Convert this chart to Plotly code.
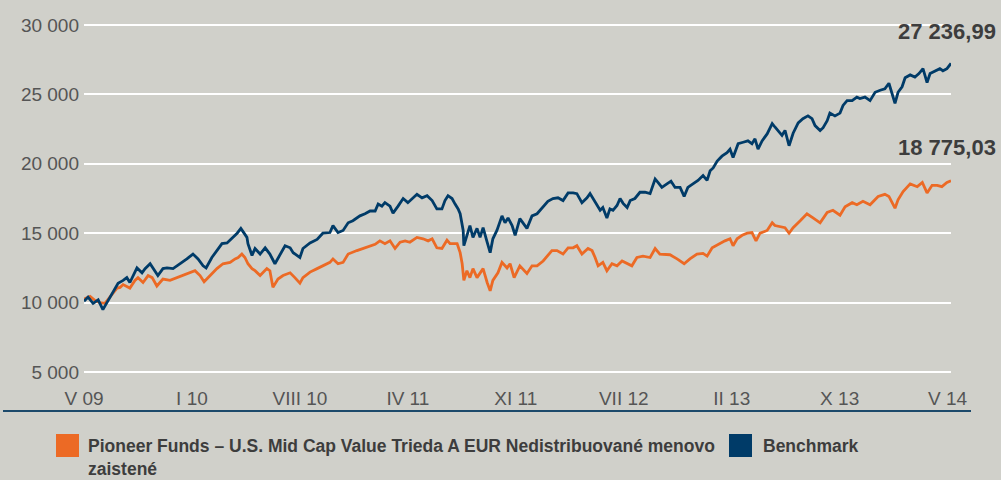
import plotly.graph_objects as go

# ---- data (week index since start, value) ----
tick_weeks = [0, 32, 64, 96, 128, 160, 192, 224, 256]
tick_labels = ["V 09", "I 10", "VIII 10", "IV 11", "XI 11", "VII 12", "II 13", "X 13", "V 14"]

bench_weeks = [0, 1.2, 2.7, 4.2, 5.6, 6.8, 8.6, 10.1, 11.6, 12.7, 13.6, 15.7, 17.2, 18.1, 19.6, 21.0, 21.9,
               23.4, 24.6, 26.4, 28.5, 30.5, 32.3, 33.8, 35.3, 36.2, 37.9, 39.4, 40.9, 42.4, 43.9, 45.4,
               46.5, 47.1, 48.3, 48.6, 49.8, 50.7, 52.2, 53.7, 55.1, 56.6, 58.1, 59.6, 61.1, 62.0, 64.0,
               64.9, 67.0, 69.1, 70.8, 72.9, 73.8, 75.3, 76.8, 78.3, 79.7, 81.8, 83.3, 84.8, 86.3, 87.2,
               88.3, 89.2, 90.7, 91.6, 93.1, 94.6, 96.0, 97.2, 98.7, 100.2, 101.7, 103.2, 104.6, 106.1,
               107.0, 107.9, 109.1, 110.0, 110.9, 111.5, 112.4, 112.6, 113.5, 114.4, 115.3, 116.5, 117.4,
               118.3, 119.5, 120.4, 121.2, 122.4, 123.9, 124.8, 125.7, 126.9, 127.8, 129.2, 131.3, 132.8,
               134.3, 136.1, 137.5, 139.0, 140.5, 142.0, 143.5, 145.0, 146.1, 147.6, 149.1, 150.0, 150.9,
               152.1, 153.0, 153.8, 155.0, 155.9, 156.8, 158.0, 158.9, 159.8, 161.0, 161.9, 163.3, 164.8,
               166.3, 167.8, 169.3, 170.2, 171.3, 172.8, 174.0, 175.2, 176.7, 177.9, 179.0, 180.5, 182.0,
               183.5, 184.7, 185.6, 186.5, 187.7, 189.1, 190.6, 191.5, 192.4, 193.9, 195.4, 196.8, 198.0,
               198.9, 199.8, 201.0, 202.5, 204.0, 204.8, 205.7, 206.9, 207.8, 209.0, 210.2, 211.7, 213.1,
               214.6, 215.8, 216.7, 218.2, 219.1, 220.3, 221.1, 222.6, 224.1, 225.0, 226.2, 227.7, 229.1,
               230.0, 231.5, 233.0, 234.5, 236.0, 237.4, 238.6, 239.5, 240.4, 241.3, 242.5, 243.4, 244.9,
               246.3, 247.5, 248.7, 249.9, 250.8, 252.3, 253.7, 254.6, 255.8, 257.0]
bench_values = [10100, 10400, 9950, 10200, 9500, 10000, 10850, 11400, 11600, 11800, 11450, 12500, 12150, 12450,
                12800, 12300, 11950, 12450, 12500, 12450, 12800, 13150, 13500, 13150, 12650, 12500, 13250,
                13750, 14250, 14300, 14650, 15000, 15350, 15100, 14700, 14250, 13400, 13900, 13500, 13950,
                13500, 12800, 13500, 14100, 13950, 13600, 13250, 13900, 14300, 14550, 15000, 15050, 15550,
                15050, 15200, 15750, 15900, 16250, 16400, 16600, 16600, 17100, 16950, 17200, 16950, 16450,
                16950, 17500, 17200, 17500, 17800, 17550, 17700, 17350, 16750, 16750, 17350, 17700, 17500,
                17100, 16750, 16400, 15200, 14100, 14800, 15550, 14700, 15350, 14700, 15400, 14350, 13600,
                14600, 15200, 16250, 15750, 16100, 15550, 14850, 16050, 15350, 16250, 16400, 16900, 17300,
                17500, 17550, 17350, 17900, 17900, 17850, 17200, 17550, 17850, 17500, 17000, 16650, 16850,
                16100, 16750, 16650, 17000, 17500, 17150, 16850, 17350, 17500, 17950, 17950, 17850, 18900,
                18650, 18300, 18550, 18750, 18300, 18300, 17650, 18300, 18550, 18800, 19150, 18800, 19500,
                19700, 20200, 20550, 20800, 21050, 20450, 21450, 21550, 21650, 21450, 21800, 21050, 21650,
                22150, 22900, 22650, 22400, 22050, 22400, 21300, 22200, 22950, 23250, 23450, 23250, 22750,
                22400, 22600, 23100, 23650, 23450, 23650, 24200, 24550, 24550, 24800, 24700, 24800, 24550,
                25150, 25300, 25400, 25800, 25050, 24350, 25150, 25550, 26200, 26400, 26250, 26500, 26850,
                25850, 26500, 26700, 26850, 26700, 26850, 27236.99]

fund_weeks = [0, 1.8, 3.3, 4.7, 6.2, 7.7, 9.8, 10.7, 11.6, 13.6, 15.1, 16.0, 17.5, 19.0, 20.2, 21.6, 23.4,
              25.5, 27.6, 29.3, 31.4, 32.9, 34.4, 35.6, 37.4, 39.4, 41.2, 43.3, 44.8, 45.7, 46.8, 47.7,
              48.6, 49.8, 50.7, 52.2, 54.2, 55.1, 56.0, 57.5, 59.0, 61.1, 62.5, 64.0, 64.9, 67.0, 69.1,
              70.8, 72.9, 73.8, 75.3, 76.8, 78.3, 80.9, 82.7, 84.8, 86.3, 87.7, 89.2, 90.7, 92.2, 93.7,
              95.2, 96.6, 98.7, 100.5, 102.0, 103.2, 104.6, 106.1, 107.6, 108.5, 110.6, 111.5, 112.1,
              112.6, 113.5, 114.4, 115.3, 116.5, 117.4, 118.3, 119.5, 120.4, 121.2, 122.7, 123.9, 125.4,
              126.3, 127.5, 129.2, 131.3, 132.8, 134.3, 136.1, 137.2, 138.7, 140.2, 142.0, 143.5, 145.0,
              146.1, 147.6, 149.4, 150.6, 151.5, 152.4, 153.8, 155.0, 156.5, 158.0, 159.5, 161.0, 162.4,
              163.9, 165.7, 167.8, 169.3, 170.7, 172.2, 173.7, 175.8, 177.9, 179.6, 181.7, 183.5, 184.7,
              186.2, 188.6, 190.0, 191.5, 192.4, 193.6, 195.1, 196.6, 198.0, 199.2, 200.4, 202.5, 204.0,
              204.8, 206.3, 207.8, 209.0, 210.2, 212.3, 214.3, 216.1, 218.2, 220.3, 222.0, 224.1, 225.6,
              227.7, 229.1, 230.9, 233.0, 235.4, 237.4, 238.6, 239.5, 240.4, 241.3, 242.8, 244.9, 247.0,
              248.5, 249.9, 251.4, 252.9, 254.3, 255.8, 257.0]
fund_values = [10250, 10450, 10150, 10000, 9950, 10400, 11050, 11100, 11300, 11050, 11600, 11800, 11450, 11950,
               11800, 11200, 11700, 11600, 11800, 11950, 12150, 12300, 11950, 11500, 11950, 12450, 12800,
               12900, 13150, 13250, 13500, 13250, 12800, 12450, 12300, 11950, 12450, 12300, 11100, 11700,
               11950, 12150, 11800, 11400, 11800, 12200, 12450, 12650, 12900, 13150, 12800, 12900, 13500,
               13750, 13900, 14100, 14200, 14450, 14250, 14450, 13900, 14350, 14450, 14350, 14700, 14600,
               14450, 14600, 13950, 13900, 14500, 14250, 14250, 13600, 12800, 11600, 12300, 11800, 12450,
               11800, 12150, 12450, 11450, 10850, 11600, 12150, 12900, 12500, 12800, 11800, 12650, 12100,
               12650, 12650, 13000, 13350, 13750, 13750, 13500, 13950, 13950, 14100, 13500, 13900, 13750,
               13250, 12650, 12900, 12300, 12800, 12650, 13000, 12800, 12650, 13250, 13350, 13250, 13900,
               13500, 13500, 13450, 13150, 12800, 13150, 13500, 13550, 13350, 13950, 14300, 14450, 14600,
               14100, 14600, 14850, 15000, 15050, 14450, 15000, 15200, 15750, 15550, 15500, 15400, 15000,
               15400, 15900, 16400, 16100, 15750, 16500, 16650, 16300, 16900, 17200, 17050, 17300, 17050,
               17650, 17800, 17650, 17200, 16800, 17400, 18000, 18550, 18350, 18650, 17900, 18450, 18450,
               18350, 18650, 18775.03]

fund_name = "Pioneer Funds – U.S. Mid Cap Value Trieda A EUR Nedistribuované menovo zaistené"
bench_name = "Benchmark"

# ---- style ----
BG = "#d0d0ca"
ORANGE = "#ec6a25"
NAVY = "#003b68"
TEXT = "#3d3d3d"
TICK = "#555555"
W, H = 1001, 480
L, R, T, B = 84, 50, 18, 101
PW, PH = W - L - R, H - T - B


def px_x(px):
    return (px - L) / PW


def px_y(py):
    return (H - B - py) / PH


def fmt(v):
    return f"{v:,.2f}".replace(",", " ").replace(".", ",")


fig = go.Figure()
fig.add_trace(go.Scatter(x=fund_weeks, y=fund_values, mode="lines", name=fund_name,
                         line=dict(color=ORANGE, width=2.8), showlegend=False))
fig.add_trace(go.Scatter(x=bench_weeks, y=bench_values, mode="lines", name=bench_name,
                         line=dict(color=NAVY, width=2.8), showlegend=False))

# end-value labels
for wk, vals, ys in [(bench_weeks, bench_values, 32), (fund_weeks, fund_values, 33)]:
    fig.add_annotation(x=wk[-1], y=vals[-1], xref="x", yref="y", text=fmt(vals[-1]),
                       showarrow=False, xanchor="right", yanchor="middle", xshift=47, yshift=ys,
                       font=dict(family="Liberation Sans, Arial", size=22,
                                 color=TEXT, weight="bold"))

# custom legend (square swatches)
legend_font = dict(family="Liberation Sans, Arial", size=17.5, color=TEXT, weight="bold")
for x0, x1, col in [(56, 79, ORANGE), (729, 752, NAVY)]:
    fig.add_shape(type="rect", xref="paper", yref="paper", x0=px_x(x0), x1=px_x(x1),
                  y0=px_y(457), y1=px_y(434), fillcolor=col, line=dict(width=0))
fig.add_annotation(xref="paper", yref="paper", x=px_x(86), y=px_y(457), xanchor="left", yanchor="middle",
                   align="left", showarrow=False,
                   text=fund_name.replace(" menovo zaistené", " menovo<br>zaistené"), font=legend_font)
fig.add_annotation(xref="paper", yref="paper", x=px_x(761), y=px_y(446), xanchor="left", yanchor="middle",
                   align="left", showarrow=False, text=bench_name, font=legend_font)

# bottom rule
fig.add_shape(type="line", xref="paper", yref="paper", x0=px_x(3), x1=px_x(971),
              y0=px_y(411), y1=px_y(411), line=dict(color="#1d4a6b", width=2))

fig.update_layout(
    width=W, height=H, margin=dict(l=L, r=R, t=T, b=B),
    paper_bgcolor=BG, plot_bgcolor=BG, separators=", ",
    font=dict(family="Liberation Sans, Arial", color=TICK),
    xaxis=dict(range=[0, 257], tickvals=tick_weeks, ticktext=tick_labels, showgrid=False,
               zeroline=False, showline=False, ticks="", ticklabelstandoff=6,
               tickfont=dict(size=19, color=TICK)),
    yaxis=dict(range=[4500, 30500], tick0=0, dtick=5000, tickformat=",", showgrid=True,
               gridcolor="white", gridwidth=2, zeroline=False, showline=False, ticks="",
               ticklabelstandoff=4, tickfont=dict(size=19, color=TICK)),
)

fig.write_html("out.html")
